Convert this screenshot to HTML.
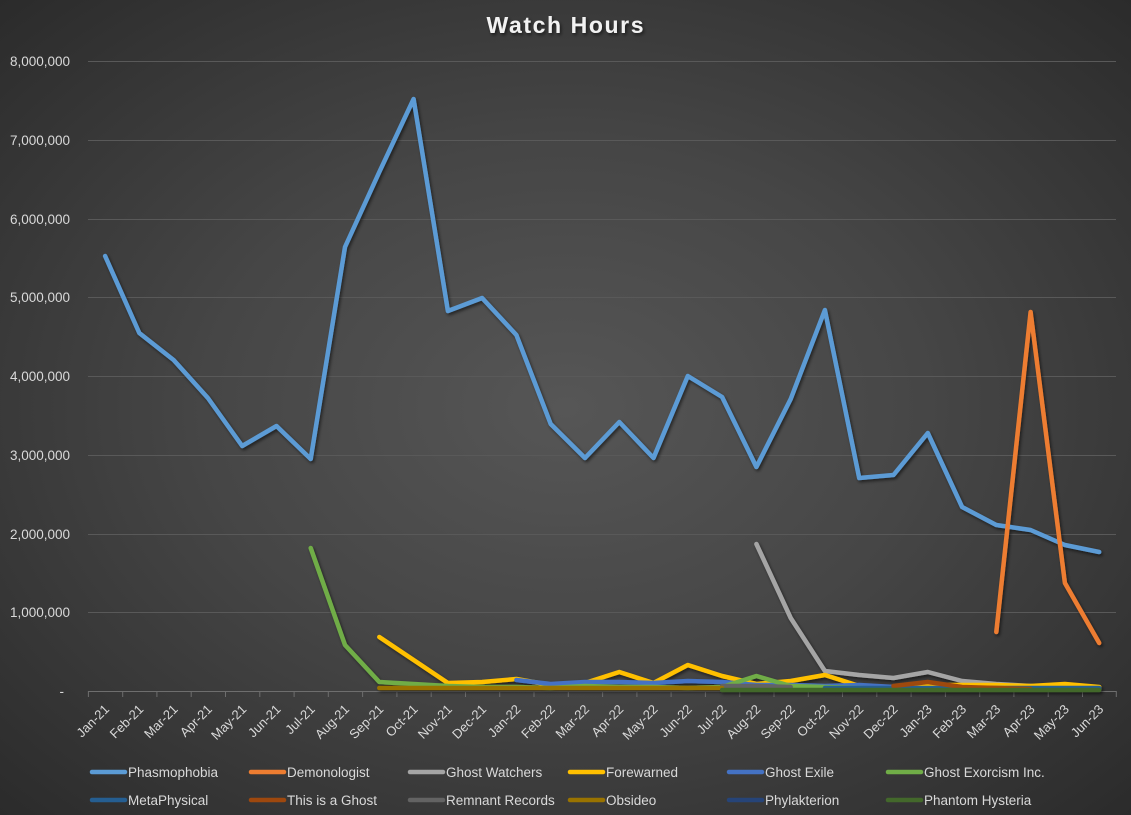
<!DOCTYPE html>
<html><head><meta charset="utf-8"><style>
html,body{margin:0;padding:0;}
body{width:1131px;height:815px;overflow:hidden;background:radial-gradient(ellipse farthest-corner at 50% 50%,#565656 0%,#464646 45%,#2b2b2b 100%);}
svg{display:block;font-family:"Liberation Sans",sans-serif;}
</style></head><body>
<svg width="1131" height="815" viewBox="0 0 1131 815" xmlns="http://www.w3.org/2000/svg">
<defs>
<filter id="sh" x="-5%" y="-5%" width="110%" height="110%">
<feDropShadow dx="1.5" dy="2" stdDeviation="1.5" flood-color="#000" flood-opacity="0.55"/>
</filter>
</defs>
<text x="565" y="33" text-anchor="middle" font-size="23" font-weight="bold" fill="#f2f2f2" textLength="157" lengthAdjust="spacing" filter="url(#sh)">Watch Hours</text>
<g stroke="#595959" stroke-width="1">
<line x1="88" y1="61.5" x2="1116" y2="61.5"/>
<line x1="88" y1="140.5" x2="1116" y2="140.5"/>
<line x1="88" y1="219.5" x2="1116" y2="219.5"/>
<line x1="88" y1="297.5" x2="1116" y2="297.5"/>
<line x1="88" y1="376.5" x2="1116" y2="376.5"/>
<line x1="88" y1="455.5" x2="1116" y2="455.5"/>
<line x1="88" y1="534.5" x2="1116" y2="534.5"/>
<line x1="88" y1="612.5" x2="1116" y2="612.5"/>
</g>
<g fill="#d9d9d9" font-size="13.5" text-anchor="end">
<text x="70" y="66">8,000,000</text>
<text x="70" y="145">7,000,000</text>
<text x="70" y="224">6,000,000</text>
<text x="70" y="302">5,000,000</text>
<text x="70" y="381">4,000,000</text>
<text x="70" y="460">3,000,000</text>
<text x="70" y="539">2,000,000</text>
<text x="70" y="617">1,000,000</text>
<text x="64" y="696">-</text>
</g>
<g stroke="#6e6e6e" stroke-width="1">
<line x1="88" y1="691.5" x2="1116" y2="691.5"/>
<path d="M88.4 691v6M122.7 691v6M156.9 691v6M191.2 691v6M225.5 691v6M259.8 691v6M294.1 691v6M328.3 691v6M362.6 691v6M396.9 691v6M431.2 691v6M465.5 691v6M499.7 691v6M534 691v6M568.3 691v6M602.6 691v6M636.9 691v6M671.1 691v6M705.4 691v6M739.7 691v6M774 691v6M808.3 691v6M842.5 691v6M876.8 691v6M911.1 691v6M945.4 691v6M979.7 691v6M1013.9 691v6M1048.2 691v6M1082.5 691v6M1116.3 691v6"/>
</g>
<g fill="#d9d9d9" font-size="13" text-anchor="end">
<text transform="translate(110,710) rotate(-45)">Jan-21</text>
<text transform="translate(144.3,710) rotate(-45)">Feb-21</text>
<text transform="translate(178.6,710) rotate(-45)">Mar-21</text>
<text transform="translate(212.9,710) rotate(-45)">Apr-21</text>
<text transform="translate(247.2,710) rotate(-45)">May-21</text>
<text transform="translate(281.5,710) rotate(-45)">Jun-21</text>
<text transform="translate(315.7,710) rotate(-45)">Jul-21</text>
<text transform="translate(350,710) rotate(-45)">Aug-21</text>
<text transform="translate(384.3,710) rotate(-45)">Sep-21</text>
<text transform="translate(418.6,710) rotate(-45)">Oct-21</text>
<text transform="translate(452.9,710) rotate(-45)">Nov-21</text>
<text transform="translate(487.1,710) rotate(-45)">Dec-21</text>
<text transform="translate(521.4,710) rotate(-45)">Jan-22</text>
<text transform="translate(555.7,710) rotate(-45)">Feb-22</text>
<text transform="translate(590,710) rotate(-45)">Mar-22</text>
<text transform="translate(624.3,710) rotate(-45)">Apr-22</text>
<text transform="translate(658.5,710) rotate(-45)">May-22</text>
<text transform="translate(692.8,710) rotate(-45)">Jun-22</text>
<text transform="translate(727.1,710) rotate(-45)">Jul-22</text>
<text transform="translate(761.4,710) rotate(-45)">Aug-22</text>
<text transform="translate(795.7,710) rotate(-45)">Sep-22</text>
<text transform="translate(829.9,710) rotate(-45)">Oct-22</text>
<text transform="translate(864.2,710) rotate(-45)">Nov-22</text>
<text transform="translate(898.5,710) rotate(-45)">Dec-22</text>
<text transform="translate(932.8,710) rotate(-45)">Jan-23</text>
<text transform="translate(967.1,710) rotate(-45)">Feb-23</text>
<text transform="translate(1001.3,710) rotate(-45)">Mar-23</text>
<text transform="translate(1035.6,710) rotate(-45)">Apr-23</text>
<text transform="translate(1069.9,710) rotate(-45)">May-23</text>
<text transform="translate(1104.2,710) rotate(-45)">Jun-23</text>
</g>
<g fill="none" stroke-width="4.5" stroke-linejoin="round" stroke-linecap="round" filter="url(#sh)">
<polyline stroke="#5b9bd5" points="105.1,256 139.3,333 173.6,360 207.9,398 242.2,446 276.5,426 310.7,459 345,247 379.3,172 413.6,99 447.9,311 482.1,298 516.4,335 550.7,424 585,458 619.3,422 653.5,458 687.8,376 722.1,397 756.4,467 790.7,399 824.9,310 859.2,478 893.5,475 927.8,433 962.1,507 996.3,525 1030.6,530 1064.9,545 1099.2,552"/>
<polyline stroke="#ed7d31" points="996.3,632 1030.6,312 1064.9,583 1099.2,643"/>
<polyline stroke="#a5a5a5" points="756.4,544 790.7,618 824.9,671 859.2,675 893.5,678 927.8,672 962.1,681 996.3,684 1030.6,686 1064.9,688 1099.2,689"/>
<polyline stroke="#ffc000" points="379.3,637 413.6,660 447.9,683 482.1,682 516.4,679 550.7,685 585,683 619.3,672 653.5,683 687.8,665 722.1,676 756.4,684 790.7,681 824.9,675 859.2,686 893.5,687 927.8,685 962.1,685 996.3,685 1030.6,686 1064.9,684 1099.2,687"/>
<polyline stroke="#4472c4" points="516.4,680 550.7,684 585,682 619.3,682 653.5,683 687.8,681 722.1,682 756.4,685 790.7,685 824.9,686 859.2,685 893.5,687"/>
<polyline stroke="#70ad47" points="310.7,548 345,645 379.3,682 413.6,684 447.9,686 482.1,687 516.4,687 550.7,688 585,686 619.3,687 653.5,687 687.8,688 722.1,687 756.4,676 790.7,686 824.9,687 859.2,688 893.5,689 927.8,689 962.1,689 996.3,689 1030.6,689 1064.9,689 1099.2,689"/>
<polyline stroke="#255e91" points="824.9,688 859.2,688 893.5,688 927.8,688 962.1,688 996.3,688 1030.6,688 1064.9,688 1099.2,688"/>
<polyline stroke="#9e480e" points="893.5,686 927.8,682 962.1,687 996.3,688 1030.6,689"/>
<polyline stroke="#636363" points="722.1,686 756.4,686 790.7,687"/>
<polyline stroke="#997300" points="379.3,688 413.6,688 447.9,688 482.1,688 516.4,688 550.7,688 585,688 619.3,688 653.5,688 687.8,688 722.1,688"/>
<polyline stroke="#43682b" points="722.1,690 756.4,690 790.7,690 824.9,690 859.2,690 893.5,690 927.8,690 962.1,690 996.3,690 1030.6,690 1064.9,690 1099.2,690"/>
</g>
<g stroke-width="4.5" stroke-linecap="round">
<line x1="92" y1="772" x2="125" y2="772" stroke="#5b9bd5"/>
<line x1="251" y1="772" x2="284" y2="772" stroke="#ed7d31"/>
<line x1="410" y1="772" x2="443" y2="772" stroke="#a5a5a5"/>
<line x1="570" y1="772" x2="603" y2="772" stroke="#ffc000"/>
<line x1="729" y1="772" x2="762" y2="772" stroke="#4472c4"/>
<line x1="888" y1="772" x2="921" y2="772" stroke="#70ad47"/>
<line x1="92" y1="800" x2="125" y2="800" stroke="#255e91"/>
<line x1="251" y1="800" x2="284" y2="800" stroke="#9e480e"/>
<line x1="410" y1="800" x2="443" y2="800" stroke="#636363"/>
<line x1="570" y1="800" x2="603" y2="800" stroke="#997300"/>
<line x1="729" y1="800" x2="762" y2="800" stroke="#264478"/>
<line x1="888" y1="800" x2="921" y2="800" stroke="#43682b"/>
</g>
<g fill="#d9d9d9" font-size="13.5">
<text x="128" y="777">Phasmophobia</text>
<text x="287" y="777">Demonologist</text>
<text x="446" y="777">Ghost Watchers</text>
<text x="606" y="777">Forewarned</text>
<text x="765" y="777">Ghost Exile</text>
<text x="924" y="777">Ghost Exorcism Inc.</text>
<text x="128" y="805">MetaPhysical</text>
<text x="287" y="805">This is a Ghost</text>
<text x="446" y="805">Remnant Records</text>
<text x="606" y="805">Obsideo</text>
<text x="765" y="805">Phylakterion</text>
<text x="924" y="805">Phantom Hysteria</text>
</g>
</svg>
</body></html>
